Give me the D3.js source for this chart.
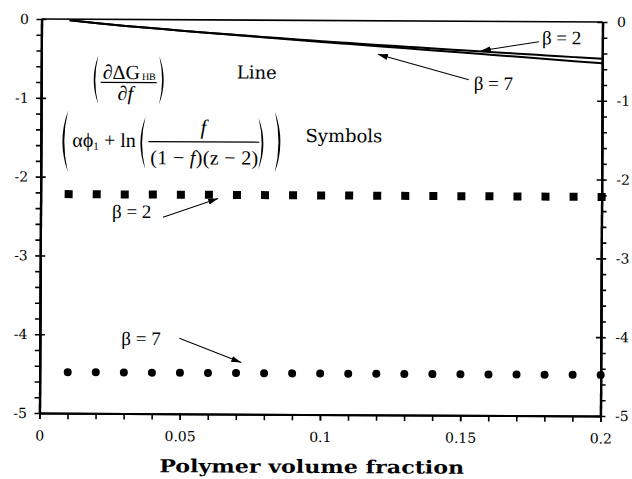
<!DOCTYPE html>
<html><head><meta charset="utf-8">
<script src="https://cdn.jsdelivr.net/npm/d3@7"></script>
<style>body{margin:0;background:#fff}svg{display:block}</style>
</head><body>
<script>
// ---- data ----
const fraction = [0.01,0.02,0.03,0.04,0.05,0.06,0.07,0.08,0.09,0.10,0.11,0.12,0.13,0.14,0.15,0.16,0.17,0.18,0.19,0.20];
const lineBeta2 = [-0.015,-0.05,-0.082,-0.11,-0.138,-0.165,-0.19,-0.215,-0.24,-0.262,-0.284,-0.306,-0.327,-0.348,-0.368,-0.388,-0.408,-0.428,-0.448,-0.468];
const lineBeta7 = [-0.015,-0.05,-0.082,-0.11,-0.138,-0.166,-0.193,-0.22,-0.247,-0.272,-0.297,-0.322,-0.347,-0.372,-0.398,-0.423,-0.448,-0.474,-0.5,-0.525];
const symBeta2 = [-2.22,-2.22,-2.22,-2.22,-2.22,-2.22,-2.22,-2.22,-2.22,-2.22,-2.22,-2.22,-2.22,-2.22,-2.22,-2.22,-2.22,-2.22,-2.22,-2.22];
const symBeta7 = [-4.48,-4.48,-4.48,-4.48,-4.48,-4.48,-4.48,-4.48,-4.48,-4.48,-4.48,-4.48,-4.48,-4.48,-4.48,-4.48,-4.48,-4.48,-4.48,-4.48];
const xTicks = [0,0.05,0.1,0.15,0.2];
const xTickLabels = ["0","0.05","0.1","0.15","0.2"];
const xMinorTicks = [0,0.01,0.02,0.03,0.04,0.05,0.06,0.07,0.08,0.09,0.1,0.11,0.12,0.13,0.14,0.15,0.16,0.17,0.18,0.19,0.2];
const yTicks = [0,-1,-2,-3,-4,-5];
const yTickLabels = ["0","-1","-2","-3","-4","-5"];
const yMinorTicks = [-0.2,-0.4,-0.6,-0.8,-1.2,-1.4,-1.6,-1.8,-2.2,-2.4,-2.6,-2.8,-3.2,-3.4,-3.6,-3.8,-4.2,-4.4,-4.6,-4.8];
const xTitle = "Polymer volume fraction";

// ---- drawing ----
const W = 632, H = 479;
const svg = d3.select("body").append("svg").attr("width", W).attr("height", H);
const root = svg.append("g").attr("transform", "rotate(0.3,321,217)");

const x = d3.scaleLinear([0, 0.2], [40.5, 601.5]);
const y = d3.scaleLinear([-5, 0], [414.5, 20.5]);

const tickFont = "DejaVu Serif";
function styleAxis(g, sw) {
  g.select(".domain").attr("stroke", "#000").attr("stroke-width", sw);
  g.selectAll(".tick line").attr("stroke", "#000").attr("stroke-width", 1.6);
  g.selectAll(".tick text").attr("font-family", tickFont).attr("font-size", 14).attr("fill", "#000");
  g.attr("font-family", null).attr("font-size", null);
}

// top border
root.append("line").attr("x1", x(0)).attr("x2", x(0.2)).attr("y1", y(0)).attr("y2", y(0))
  .attr("stroke", "#000").attr("stroke-width", 1.6);

// left axis
root.append("g").attr("transform", `translate(${x(0)},0)`)
  .call(d3.axisLeft(y).tickValues(yMinorTicks).tickSize(5).tickSizeOuter(0).tickFormat(""))
  .call(g => styleAxis(g, 2.2));
root.append("g").attr("transform", `translate(${x(0)},0)`)
  .call(d3.axisLeft(y).tickValues(yTicks).tickSize(5).tickSizeOuter(0).tickPadding(7.5).tickFormat((d, i) => yTickLabels[i]))
  .call(g => styleAxis(g, 2.2));
root.append("g").attr("transform", `translate(${x(0)},0)`)
  .call(d3.axisRight(y).tickValues(yTicks).tickSize(5).tickSizeOuter(0).tickFormat(""))
  .call(g => styleAxis(g, 2.2));

// right axis
root.append("g").attr("transform", `translate(${x(0.2)},0)`)
  .call(d3.axisRight(y).tickValues(yMinorTicks).tickSize(5).tickSizeOuter(0).tickFormat(""))
  .call(g => styleAxis(g, 2.2));
root.append("g").attr("transform", `translate(${x(0.2)},0)`)
  .call(d3.axisRight(y).tickValues(yTicks).tickSize(5).tickSizeOuter(0).tickPadding(9.5).tickFormat((d, i) => yTickLabels[i]))
  .call(g => styleAxis(g, 2.2));
root.append("g").attr("transform", `translate(${x(0.2)},0)`)
  .call(d3.axisLeft(y).tickValues(yTicks).tickSize(5).tickSizeOuter(0).tickFormat(""))
  .call(g => styleAxis(g, 2.2));

// bottom axis
root.append("g").attr("transform", `translate(0,${y(-5)})`)
  .call(d3.axisBottom(x).tickValues(xMinorTicks).tickSize(6).tickSizeOuter(0).tickFormat(""))
  .call(g => styleAxis(g, 2));
root.append("g").attr("transform", `translate(0,${y(-5)})`)
  .call(d3.axisBottom(x).tickValues(xTicks).tickSize(6).tickSizeOuter(0).tickPadding(11.5).tickFormat((d, i) => xTickLabels[i]))
  .call(g => styleAxis(g, 2));

// x title
root.append("text").attr("x", 313).attr("y", 473).attr("text-anchor", "middle")
  .attr("font-family", "DejaVu Serif").attr("font-weight", "bold").attr("font-size", 18)
  .attr("textLength", 305).attr("lengthAdjust", "spacingAndGlyphs").text(xTitle);

// lines
const line = d3.line().x((d, i) => x(fraction[i])).y(d => y(d)).curve(d3.curveMonotoneX);
[lineBeta2, lineBeta7].forEach(s => {
  root.append("path").datum(s).attr("d", line).attr("fill", "none")
    .attr("stroke", "#000").attr("stroke-width", 2);
});

// symbols
root.append("g").selectAll("rect").data(symBeta2).join("rect")
  .attr("x", (d, i) => x(fraction[i]) - 4).attr("y", d => y(d) - 4)
  .attr("width", 8).attr("height", 8).attr("fill", "#000");
root.append("g").selectAll("circle").data(symBeta7).join("circle")
  .attr("cx", (d, i) => x(fraction[i])).attr("cy", d => y(d)).attr("r", 4).attr("fill", "#000");

// arrows
const defs = svg.append("defs");
defs.append("marker").attr("id", "ah").attr("viewBox", "0 0 10 6").attr("refX", 10).attr("refY", 3)
  .attr("markerWidth", 10).attr("markerHeight", 6).attr("markerUnits", "userSpaceOnUse").attr("orient", "auto")
  .append("path").attr("d", "M0,0 L10,3 L0,6 Z").attr("fill", "#000");

const serif = "Liberation Serif";
function label(tx, ty, txt, ax1, ay1, ax2, ay2) {
  root.append("text").attr("x", tx).attr("y", ty).attr("font-family", serif).attr("font-size", 19).text(txt);
  root.append("line").attr("x1", ax1).attr("y1", ay1).attr("x2", ax2).attr("y2", ay2)
    .attr("stroke", "#000").attr("stroke-width", 1).attr("marker-end", "url(#ah)");
}
label(541, 43, "β = 2", 538, 40.5, 480, 50);
label(473, 89, "β = 7", 468, 79, 377, 54);
label(112, 219, "β = 2", 163, 218, 218, 199);
label(122, 346, "β = 7", 180, 339, 242, 363);

// parentheses
function paren(cx, y1, y2, w, t, right) {
  const ym = (y1 + y2) / 2, s = right ? -1 : 1;
  const d = `M${cx + s * w},${y1} Q${cx - s * w},${ym} ${cx + s * w},${y2} Q${cx - s * w + s * 2 * t},${ym} ${cx + s * w},${y1} Z`;
  root.append("path").attr("d", d).attr("fill", "#000");
}
function txt(tx, ty, s, size, opts = {}) {
  const t = root.append("text").attr("x", tx).attr("y", ty).attr("font-family", opts.family || serif)
    .attr("font-size", size).text(s);
  if (opts.italic) t.attr("font-style", "italic");
  if (opts.anchor) t.attr("text-anchor", opts.anchor);
  if (opts.len) t.attr("textLength", opts.len).attr("lengthAdjust", "spacingAndGlyphs");
  return t;
}

// formula 1
paren(93, 57, 105, 4.5, 1.6, false);
paren(163, 57, 105, 4.5, 1.6, true);
const num = root.append("text").attr("x", 102).attr("y", 80).attr("font-family", serif).attr("font-size", 20);
num.append("tspan").text("∂ΔG");
num.append("tspan").attr("font-size", 10).attr("dx", 2).attr("dy", 1).text("HB");
root.append("line").attr("x1", 100).attr("x2", 156).attr("y1", 83.5).attr("y2", 83.5).attr("stroke", "#000").attr("stroke-width", 1.1);
const t1 = txt(117, 101, "∂", 20);
t1.append("tspan").attr("font-style", "italic").text("f");
txt(236, 79, "Line", 18, { family: "DejaVu Serif" });

// formula 2
paren(62, 112, 173, 5.5, 1.9, false);
paren(280, 112, 173, 5.5, 1.9, true);
const lhs = root.append("text").attr("x", 72).attr("y", 148).attr("font-family", serif).attr("font-size", 20);
lhs.append("tspan").text("αϕ");
lhs.append("tspan").attr("font-size", 11).attr("dy", 3).text("1");
lhs.append("tspan").attr("dy", -3).text(" + ln");
paren(140, 118, 170, 5, 1.7, false);
paren(263, 118, 170, 5, 1.7, true);
txt(203, 135, "f", 21, { italic: true, anchor: "middle" });
root.append("line").attr("x1", 148).attr("x2", 259).attr("y1", 142.5).attr("y2", 142.5).attr("stroke", "#000").attr("stroke-width", 1.1);
const den = root.append("text").attr("x", 150).attr("y", 165).attr("font-family", serif).attr("font-size", 20)
  .attr("textLength", 108).attr("lengthAdjust", "spacing");
den.append("tspan").text("(1 − ");
den.append("tspan").attr("font-style", "italic").text("f");
den.append("tspan").text(")(z − 2)");
txt(305, 142, "Symbols", 18, { family: "DejaVu Serif" });
</script>
</body></html>
